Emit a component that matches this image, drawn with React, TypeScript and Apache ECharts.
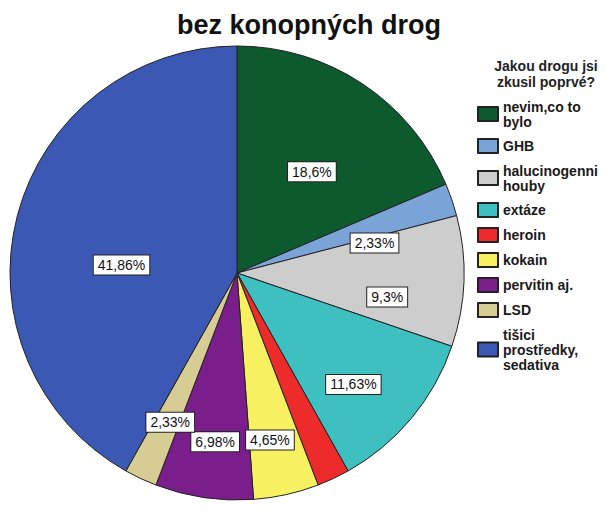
import React, { useEffect, useRef } from "react";
import * as echarts from "echarts";

const categories = [
  "nevim,co to bylo",
  "GHB",
  "halucinogenni houby",
  "extáze",
  "heroin",
  "kokain",
  "pervitin aj.",
  "LSD",
  "tišici prostředky, sedativa",
];
const counts = [8, 1, 4, 5, 1, 2, 3, 1, 18];
const legendLines = [
  "nevim,co to\nbylo",
  "GHB",
  "halucinogenni\nhouby",
  "extáze",
  "heroin",
  "kokain",
  "pervitin aj.",
  "LSD",
  "tišici\nprostředky,\nsedativa",
];
const showLabel = [true, true, true, true, false, true, true, true, true];

const colors = ["#0c5a2e", "#7aa4d8", "#cdcdcd", "#3ebfc0", "#ee2b2b", "#f7f060", "#7a1e8c", "#d7cd94", "#3a58b4"];
const labelRadiusRatio = [0.555, 0.62, 0.67, 0.71, 0.6, 0.75, 0.75, 0.72, 0.51];
const labelAngleShift = [3, 6.5, 7, 4, 0, 1.4, -1, -1, -10.7];

const FONT = "'Liberation Sans', Arial, sans-serif";
const CX = 237;
const CY = 273;
const R = 227;

function fmtPct(v: number, total: number) {
  const p = ((v / total) * 100).toFixed(2).replace(/0+$/, "").replace(/\.$/, "");
  return p.replace(".", ",") + "%";
}

export default function App() {
  const ref = useRef<HTMLDivElement>(null);
  useEffect(() => {
    if (!ref.current) return;
    const chart = echarts.init(ref.current, undefined, { renderer: "svg" });
    const total = counts.reduce((a, b) => a + b, 0);
    const data = categories.map((name, i) => ({
      name,
      value: counts[i],
      itemStyle: { color: colors[i] },
      label: { show: showLabel[i] },
    }));
    const nameToIdx: Record<string, number> = {};
    categories.forEach((c, i) => (nameToIdx[c] = i));

    chart.setOption({
      animation: false,
      backgroundColor: "#ffffff",
      graphic: [
        {
          type: "text",
          x: 309,
          y: 11,
          style: {
            text: "bez konopných drog",
            font: `bold 27px ${FONT}`,
            fill: "#111",
            textAlign: "center",
          },
        },
        {
          type: "text",
          x: 546,
          y: 58,
          style: {
            text: "Jakou drogu jsi\nzkusil poprvé?",
            font: `bold 14px ${FONT}`,
            lineHeight: 16,
            fill: "#222",
            textAlign: "center",
          },
        },
      ],
      legend: {
        orient: "vertical",
        left: 477,
        top: 99,
        padding: 0,
        itemWidth: 20,
        itemHeight: 14,
        itemGap: 9,
        icon: "rect",
        data: categories,
        formatter: (name: string) => legendLines[nameToIdx[name]],
        textStyle: { fontFamily: FONT, fontSize: 14, fontWeight: "bold", lineHeight: 15, color: "#1a1a1a" },
      },
      series: [
        {
          type: "pie",
          center: [CX, CY],
          radius: [0, R],
          startAngle: 90,
          clockwise: true,
          data,
          itemStyle: { borderColor: "#222", borderWidth: 1 },
          emphasis: { disabled: true },
          label: {
            position: "inside",
            formatter: (p: any) => fmtPct(p.value, total),
            fontFamily: FONT,
            fontSize: 14,
            color: "#111",
            backgroundColor: "#ffffff",
            borderColor: "#222",
            borderWidth: 1,
            padding: [3, 4, 2, 4],
          },
          labelLine: { show: false },
          labelLayout: (params: any) => {
            const i = params.dataIndex;
            const lr = params.labelRect;
            const lx = lr.x + lr.width / 2;
            const ly = lr.y + lr.height / 2;
            const ang = Math.atan2(lx - CX, -(ly - CY));
            const a2 = ang + (labelAngleShift[i] * Math.PI) / 180;
            const r2 = labelRadiusRatio[i] * R;
            const tx = CX + r2 * Math.sin(a2);
            const ty = CY - r2 * Math.cos(a2);
            return { dx: tx - lx, dy: ty - ly };
          },
        },
      ],
    });
    return () => chart.dispose();
  }, []);
  return (
    <div
      ref={ref}
      style={{ position: "absolute", left: 0, top: 0, width: 607, height: 515 }}
    />
  );
}
